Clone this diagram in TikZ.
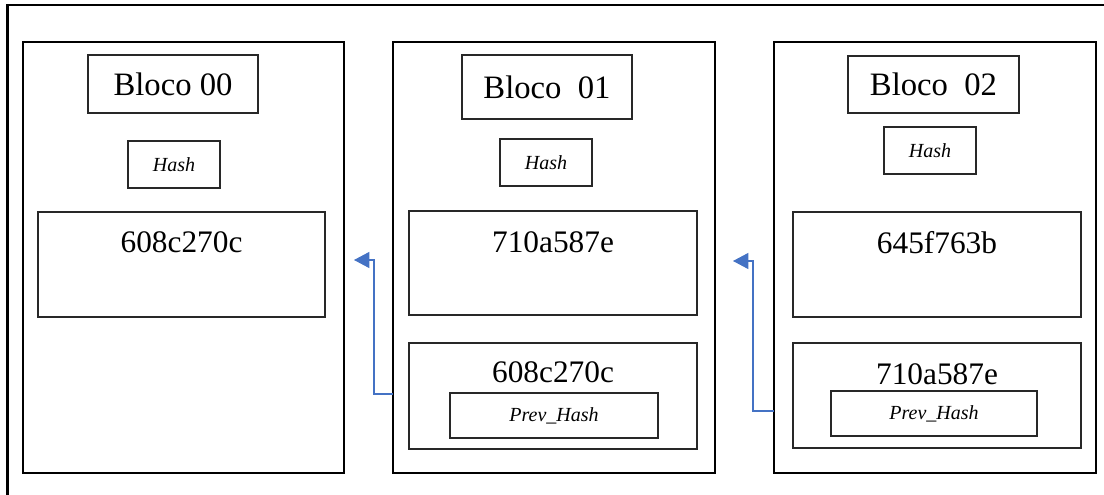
\documentclass[tikz,border=0pt]{standalone}
\usepackage{fontspec}
\setmainfont{Liberation Serif}
\usetikzlibrary{arrows.meta}
\definecolor{linkblue}{RGB}{68,114,196}
\definecolor{boxgrey}{RGB}{40,40,40}
\tikzset{
  outerframe/.style={draw=black, line width=1.6pt},
  blockbox/.style={draw=black, line width=2.1pt, inner sep=0pt},
  titlebox/.style={draw=boxgrey, line width=0.9pt, inner sep=0pt, font=\fontsize{24.5}{28}\selectfont},
  hashbox/.style={draw=boxgrey, line width=0.9pt, inner sep=0pt, font=\fontsize{15}{18}\itshape\selectfont},
  valbox/.style={draw=boxgrey, line width=0.9pt, inner sep=0pt},
  valtext/.style={inner sep=0pt, font=\fontsize{23.5}{27}\selectfont},
  link/.style={draw=linkblue, line width=0.9pt, -{Triangle[length=11.5pt,width=12pt]}},
}
\begin{document}
\begin{tikzpicture}[x=0.75pt,y=-0.75pt]
\clip (0,0) rectangle (1104,495);
\fill[white] (0,0) rectangle (1104,495);
\draw[outerframe] (7.5,5) rectangle (1130,520);

% Block 00
\node[blockbox, minimum width=240.75pt, minimum height=323.25pt] (blk0) at (183.5,257.5) {};
\node[titlebox, minimum width=127.5pt, minimum height=43.5pt] (t0) at (173,84) {Bloco 00};
\node[hashbox, minimum width=69pt, minimum height=35.25pt] (h0) at (174,164.5) {Hash};
\node[valbox, minimum width=215.25pt, minimum height=78.75pt] (v0) at (181.5,264.5) {};
\node[valtext] (v0t) at (181.5,242) {608c270c};

% Block 01
\node[blockbox, minimum width=241.5pt, minimum height=323.25pt] (blk1) at (554,257.5) {};
\node[titlebox, minimum width=127.5pt, minimum height=48pt] (t1) at (547,87) {Bloco\ \ 01};
\node[hashbox, minimum width=69pt, minimum height=35.25pt] (h1) at (546,162.5) {Hash};
\node[valbox, minimum width=216pt, minimum height=78pt] (v1) at (553,263) {};
\node[valtext] (v1t) at (553,242) {710a587e};
\node[valbox, minimum width=216pt, minimum height=79.5pt] (p1) at (553,396) {};
\node[valtext] (p1t) at (553,372) {608c270c};
\node[hashbox, minimum width=156pt, minimum height=33.75pt] (ph1) at (554,415.5) {Prev\_Hash};

% Block 02
\node[blockbox, minimum width=241.5pt, minimum height=323.25pt] (blk2) at (935,257.5) {};
\node[titlebox, minimum width=128.25pt, minimum height=42.75pt] (t2) at (933.5,84.5) {Bloco\ \ 02};
\node[hashbox, minimum width=69pt, minimum height=35.25pt] (h2) at (930,150.5) {Hash};
\node[valbox, minimum width=216pt, minimum height=78.75pt] (v2) at (937,264.5) {};
\node[valtext] (v2t) at (937,243) {645f763b};
\node[valbox, minimum width=216pt, minimum height=78.75pt] (p2) at (937,395.5) {};
\node[valtext] (p2t) at (937,374.5) {710a587e};
\node[hashbox, minimum width=154.5pt, minimum height=33.75pt] (ph2) at (934,413.5) {Prev\_Hash};

% Links
\coordinate (s1) at (393,394);
\coordinate (e1) at (354,260);
\draw[link] (s1) -- (374,394) |- (e1);
\coordinate (s2) at (774,411);
\coordinate (e2) at (733,261);
\draw[link] (s2) -- (753,411) |- (e2);
\end{tikzpicture}
\end{document}
